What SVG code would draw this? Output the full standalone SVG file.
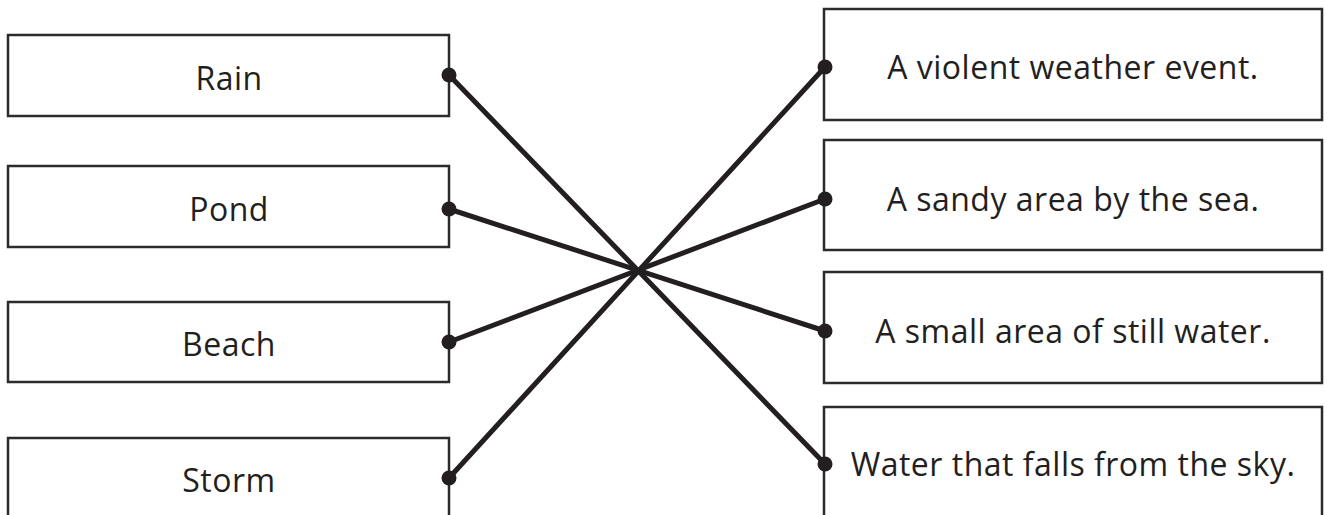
<svg xmlns="http://www.w3.org/2000/svg" width="1327" height="515" viewBox="0 0 1327 515">
<style>
.box{fill:#fff;stroke:#2b2b2b;stroke-width:2.5}
.t{font-family:"Open Sans","DejaVu Sans",sans-serif;font-size:32px;letter-spacing:0.5px;fill:#231f20;text-anchor:middle}
.ln{stroke:#231f20;stroke-width:5;stroke-linecap:round;fill:none}
.dot{fill:#231f20}
</style>
<rect width="1327" height="515" fill="#fff"/>
<g id="rain"><rect class="box" x="8" y="35" width="441" height="81"/><text class="t" x="229" y="90">Rain</text></g>
<g id="pond"><rect class="box" x="8" y="166" width="441" height="81"/><text class="t" x="229" y="221">Pond</text></g>
<g id="beach"><rect class="box" x="8" y="302" width="441" height="80"/><text class="t" x="229" y="356">Beach</text></g>
<g id="storm"><rect class="box" x="8" y="438" width="441" height="81"/><text class="t" x="229" y="492">Storm</text></g>
<g id="violent"><rect class="box" x="824" y="9" width="498" height="111"/><text class="t" x="1073" y="79">A violent weather event.</text></g>
<g id="sandy"><rect class="box" x="824" y="140" width="498" height="110"/><text class="t" x="1073" y="211">A sandy area by the sea.</text></g>
<g id="still"><rect class="box" x="824" y="272" width="498" height="111"/><text class="t" x="1073" y="343">A small area of still water.</text></g>
<g id="water"><rect class="box" x="824" y="407" width="498" height="111"/><text class="t" x="1073" y="476">Water that falls from the sky.</text></g>
<g id="connectors">
<line class="ln" x1="449" y1="75" x2="825" y2="464"/>
<line class="ln" x1="449" y1="209" x2="825" y2="331"/>
<line class="ln" x1="449" y1="342" x2="825" y2="199"/>
<line class="ln" x1="449" y1="478" x2="825" y2="67"/>
<circle class="dot" cx="449" cy="75" r="7.5"/>
<circle class="dot" cx="449" cy="209" r="7.5"/>
<circle class="dot" cx="449" cy="342" r="7.5"/>
<circle class="dot" cx="449" cy="478" r="7.5"/>
<circle class="dot" cx="825" cy="67" r="7.5"/>
<circle class="dot" cx="825" cy="199" r="7.5"/>
<circle class="dot" cx="825" cy="331" r="7.5"/>
<circle class="dot" cx="825" cy="464" r="7.5"/>
</g>
</svg>
